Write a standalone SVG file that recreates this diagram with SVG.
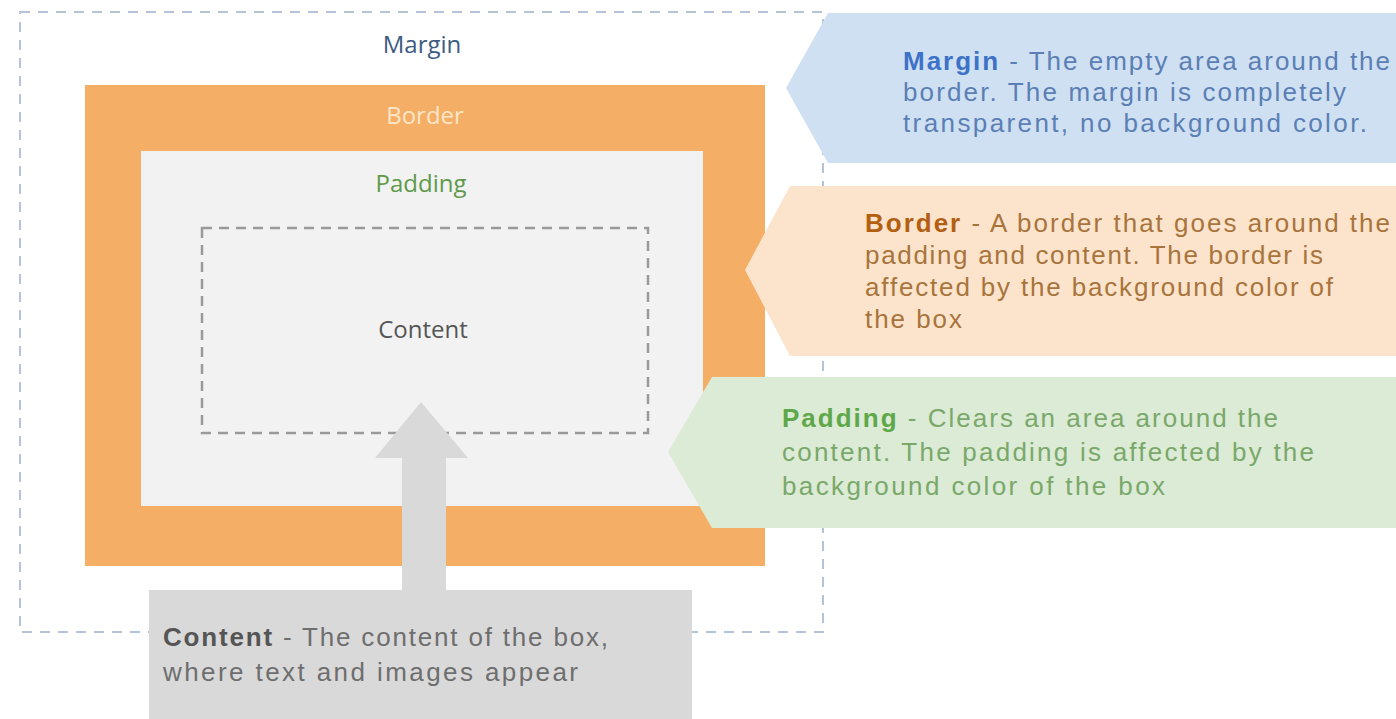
<svg xmlns="http://www.w3.org/2000/svg" width="1396" height="719" viewBox="0 0 1396 719">
<style>
.t{font-family:"Liberation Sans",Arial,sans-serif;font-size:26px}
.lbl{font-family:"Open Sans","Liberation Sans",sans-serif;font-size:24px;text-anchor:middle}
.b{font-weight:700}
</style>
<rect width="1396" height="719" fill="#ffffff"/>
<g id="margin">
<rect x="20" y="12" width="803" height="620" fill="none" stroke="#b4c4d6" stroke-width="2" stroke-dasharray="10 8"/>
<text class="lbl" x="422" y="53" fill="#3e5b80">Margin</text>
</g>
<g id="border">
<rect x="85" y="85" width="680" height="481" fill="#f4ae66"/>
<text class="lbl" x="425" y="124" fill="#fde6c8">Border</text>
</g>
<g id="padding">
<rect x="141" y="151" width="562" height="355" fill="#f2f2f2"/>
<text class="lbl" x="421" y="192" fill="#5f9a4a">Padding</text>
</g>
<g id="content">
<rect x="202" y="228" width="446" height="205" fill="none" stroke="#9a9a9a" stroke-width="2.5" stroke-dasharray="10 7"/>
<text class="lbl" x="423" y="338" fill="#555555">Content</text>
</g>
<g id="connectors">
<path d="M402,592 V458 H375 L421,402 L468,458 H446 V592 Z" fill="#d9d9d9"/>
</g>
<g id="callout-margin">
<polygon points="786,88 828,13 1396,13 1396,163 828,163" fill="#cfe0f2"/>
<g class="t" fill="#5b7fb5">
<text x="903" y="70" textLength="487" lengthAdjust="spacing"><tspan class="b" fill="#3d72c8">Margin</tspan> - The empty area around the</text>
<text x="903" y="101" textLength="443" lengthAdjust="spacing">border. The margin is completely</text>
<text x="903" y="132" textLength="464" lengthAdjust="spacing">transparent, no background color.</text>
</g>
</g>
<g id="callout-border">
<polygon points="745,270 790,186 1396,186 1396,356 790,356" fill="#fce4cc"/>
<g class="t" fill="#a9743c">
<text x="865" y="232" textLength="525" lengthAdjust="spacing"><tspan class="b" fill="#b35f12">Border</tspan> - A border that goes around the</text>
<text x="865" y="264" textLength="458" lengthAdjust="spacing">padding and content. The border is</text>
<text x="865" y="296" textLength="468" lengthAdjust="spacing">affected by the background color of</text>
<text x="865" y="328" textLength="97" lengthAdjust="spacing">the box</text>
</g>
</g>
<g id="callout-padding">
<polygon points="668,452 712,377 1396,377 1396,528 712,528" fill="#dbebd5"/>
<g class="t" fill="#7aa86a">
<text x="782" y="427" textLength="496" lengthAdjust="spacing"><tspan class="b" fill="#5fa84a">Padding</tspan> - Clears an area around the</text>
<text x="782" y="461" textLength="532" lengthAdjust="spacing">content. The padding is affected by the</text>
<text x="782" y="495" textLength="383" lengthAdjust="spacing">background color of the box</text>
</g>
</g>
<g id="callout-content">
<rect x="149" y="590" width="543" height="129" fill="#d9d9d9"/>
<g class="t" fill="#6e6e6e">
<text x="163" y="646" textLength="445" lengthAdjust="spacing"><tspan class="b" fill="#555555">Content</tspan> - The content of the box,</text>
<text x="163" y="681" textLength="415" lengthAdjust="spacing">where text and images appear</text>
</g>
</g>
</svg>
